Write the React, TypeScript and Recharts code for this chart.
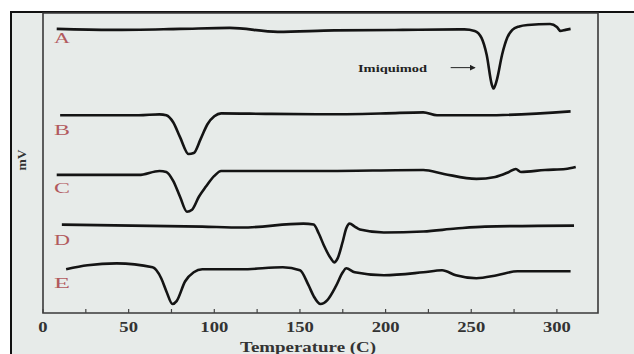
import { LineChart, Line, XAxis, YAxis, ReferenceArea, ReferenceLine } from "recharts";

// DSC thermograms, signal in mV (curves stacked with offsets)
const tempsA = [8, 40, 80, 109, 137, 170, 210, 246, 252, 256, 259, 262, 263, 265, 268, 271, 274, 278, 283, 296, 300, 302, 305, 308];
const mvA = [28.6, 28.5, 28.6, 28.7, 28.3, 28.45, 28.5, 28.55, 28.4, 27.7, 26.0, 23.0, 22.6, 23.5, 26.0, 27.7, 28.5, 28.85, 29.0, 29.1, 28.8, 28.4, 28.5, 28.6];

const tempsB = [10, 56, 68, 72, 76, 80, 85, 88, 92, 96, 100, 104, 130, 163, 200, 222, 230, 258, 308];
const mvB = [19.9, 19.9, 20.0, 19.9, 19.2, 17.7, 16.0, 16.1, 17.5, 19.0, 19.8, 20.1, 20.05, 20.0, 20.1, 20.2, 19.9, 19.9, 20.3];

const tempsC = [8, 56, 68, 72, 76, 80, 84, 87, 91, 95, 100, 104, 163, 222, 234, 253, 264, 272, 276, 279, 293, 305, 311];
const mvC = [13.9, 13.9, 14.3, 14.2, 13.3, 11.7, 10.2, 10.4, 11.7, 12.7, 13.8, 14.3, 14.3, 14.4, 14.0, 13.5, 13.7, 14.2, 14.5, 14.2, 14.4, 14.5, 14.7];

const tempsD = [11, 93, 116, 152, 158, 161, 164, 168, 170, 172, 175, 177, 179, 182, 185, 199, 222, 241, 258, 310];
const mvD = [8.9, 8.7, 8.6, 9.0, 8.9, 8.0, 6.8, 5.5, 5.1, 5.5, 7.2, 8.5, 9.0, 8.7, 8.4, 8.1, 8.2, 8.5, 8.7, 8.8];

const tempsE = [13.5, 26, 43, 64, 69, 72, 75.6, 78, 83, 88, 93, 116, 140, 150, 155, 158, 162, 166, 171, 175, 177, 182, 199, 222, 233, 241, 253, 265, 277, 308];
const mvE = [4.4, 4.8, 5.0, 4.6, 3.5, 2.2, 0.9, 1.2, 3.2, 4.1, 4.4, 4.4, 4.6, 4.3, 2.8, 1.7, 0.9, 1.3, 2.7, 4.1, 4.5, 4.1, 3.8, 4.1, 4.3, 3.8, 3.5, 3.8, 4.2, 4.2];

const xTicks = [0, 25, 50, 75, 100, 125, 150, 175, 200, 225, 250, 275, 300];
const xDomain = [0, 324];
const yDomain = [0, 30.2];

const toPoints = (temps: number[], mv: number[]) => temps.map((t, i) => ({ t, mv: mv[i] }));

const curves = [
  { name: "A", data: toPoints(tempsA, mvA) },
  { name: "B", data: toPoints(tempsB, mvB) },
  { name: "C", data: toPoints(tempsC, mvC) },
  { name: "D", data: toPoints(tempsD, mvD) },
  { name: "E", data: toPoints(tempsE, mvE) },
];

const serif = '"Liberation Serif", "Times New Roman", serif';

const AxisTick = (props: any) => {
  const { x, y, payload } = props;
  const v = payload.value as number;
  const label = v % 50 === 0 ? String(v) : "";
  return (
    <g>
      <line x1={x} y1={y} x2={x} y2={y - 4} stroke="#444" strokeWidth={1.2} />
      {label && (
        <text
          x={x}
          y={y + 19}
          textAnchor="middle"
          fontFamily={serif}
          fontWeight="bold"
          fontSize={14}
          fill="#333"
          textLength={label.length * 9.3}
          lengthAdjust="spacingAndGlyphs"
        >
          {label}
        </text>
      )}
    </g>
  );
};

export default function App() {
  return (
    <div style={{ position: "fixed", left: 0, top: 0, width: 634, height: 354, overflow: "hidden", background: "#fff" }}>
      <div
        style={{
          position: "absolute",
          left: 10,
          top: 11,
          width: 640,
          height: 360,
          border: "2px solid #111",
          boxSizing: "border-box",
          background: "#e7ebe9",
        }}
      />
      <LineChart
        width={634}
        height={354}
        margin={{ top: 13, right: 36, bottom: 0, left: 43 }}
        style={{ position: "absolute", left: 0, top: 0 }}
      >
        <defs>
          <marker id="arrowHead" markerWidth="6" markerHeight="6" refX="5" refY="3" orient="auto" markerUnits="userSpaceOnUse">
            <path d="M0,0 L6,3 L0,6 z" fill="#222" />
          </marker>
        </defs>
        <XAxis
          dataKey="t"
          type="number"
          domain={xDomain}
          ticks={xTicks}
          allowDataOverflow
          height={41}
          tickSize={0}
          tickMargin={0}
          axisLine={false}
          tickLine={false}
          tick={<AxisTick />}
          interval={0}
        />
        <YAxis type="number" domain={yDomain} hide allowDataOverflow />
        <ReferenceArea x1={0} x2={324} y1={0} y2={30.2} fill="none" stroke="#3a3a3a" strokeWidth={1.6} />
        <ReferenceLine
          segment={[
            { x: 238, y: 24.7 },
            { x: 252, y: 24.7 },
          ]}
          stroke="#222"
          strokeWidth={1}
          markerEnd="url(#arrowHead)"
        />
        {curves.map((c) => (
          <Line
            key={c.name}
            data={c.data}
            dataKey="mv"
            type="monotone"
            stroke="#141414"
            strokeWidth={2.6}
            dot={false}
            isAnimationActive={false}
          />
        ))}
      </LineChart>
      <svg width={634} height={354} style={{ position: "absolute", left: 0, top: 0, pointerEvents: "none" }}>
        {[
          { t: "A", y: 43 },
          { t: "B", y: 135 },
          { t: "C", y: 193 },
          { t: "D", y: 245 },
          { t: "E", y: 288 },
        ].map((l) => (
          <text key={l.t} x={54} y={l.y} fontFamily={serif} fontSize={15} fill="#b25a5e" textLength={16} lengthAdjust="spacingAndGlyphs">
            {l.t}
          </text>
        ))}
        <text x={358} y={72} fontFamily={serif} fontWeight="bold" fontSize={10} fill="#222" textLength={69} lengthAdjust="spacingAndGlyphs">
          Imiquimod
        </text>
        <text
          x={0}
          y={0}
          transform="translate(26 160) rotate(-90)"
          textAnchor="middle"
          fontFamily={serif}
          fontWeight="bold"
          fontSize={13}
          fill="#333"
          textLength={21}
          lengthAdjust="spacingAndGlyphs"
        >
          mV
        </text>
        <text x={240} y={352} fontFamily={serif} fontWeight="bold" fontSize={14} fill="#333" textLength={136} lengthAdjust="spacingAndGlyphs">
          Temperature (C)
        </text>
      </svg>
    </div>
  );
}
